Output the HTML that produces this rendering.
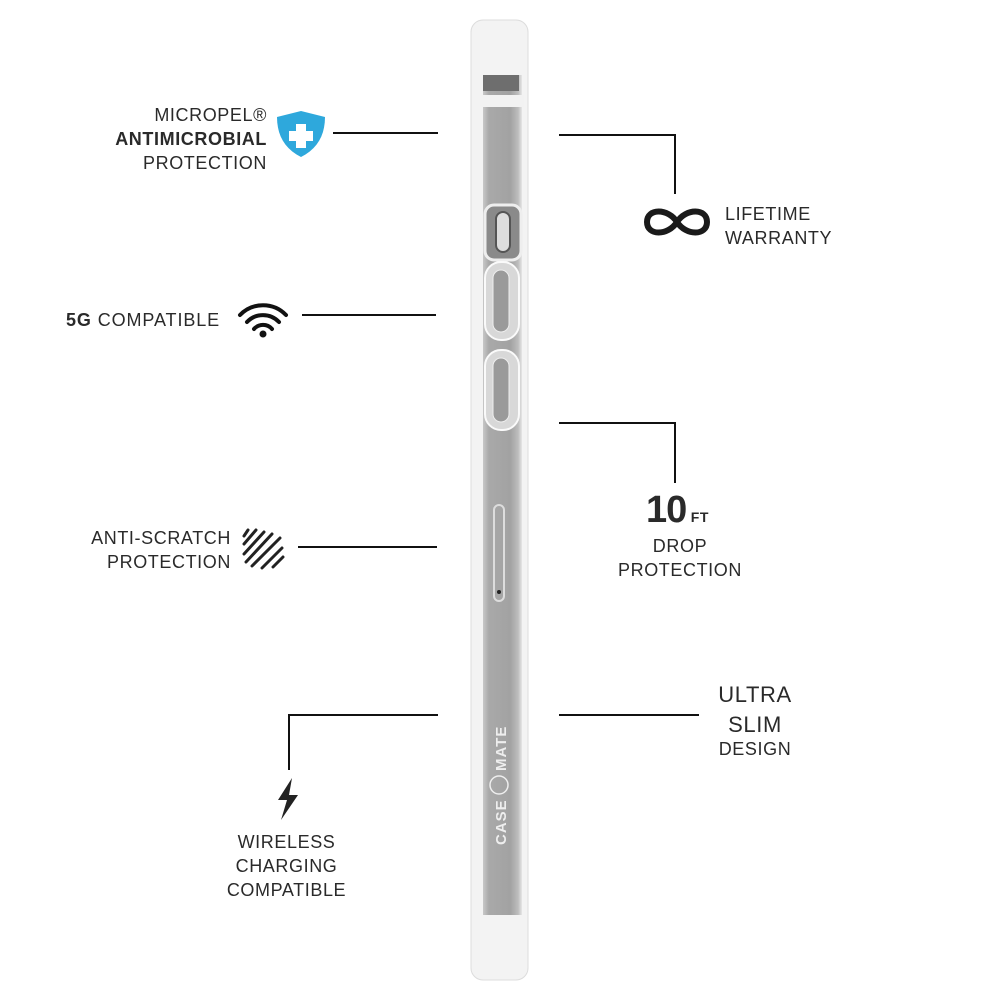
<!DOCTYPE html>
<html><head><style>
body{margin:0;width:1000px;height:1000px;background:#fff;position:relative;overflow:hidden;font-family:"Liberation Sans",sans-serif;color:#2a2a2a}
.t{position:absolute;font-size:18px;line-height:24px;letter-spacing:0.6px}
.l{position:absolute;background:#111}
</style></head><body>
<svg width="1000" height="1000" style="position:absolute;left:0;top:0">
<defs>
<linearGradient id="m" x1="0" x2="1"><stop offset="0" stop-color="#c8c8c8"/><stop offset="0.15" stop-color="#a9a9a9"/><stop offset="0.7" stop-color="#a2a2a2"/><stop offset="0.9" stop-color="#bdbdbd"/><stop offset="1" stop-color="#e6e6e6"/></linearGradient>
</defs>
<rect x="471" y="20" width="57" height="960" rx="12" fill="#f3f3f3" stroke="#dcdcdc"/>
<rect x="483" y="75" width="39" height="840" fill="url(#m)"/>
<rect x="483" y="75" width="36" height="16" fill="#6e6e6e"/>
<rect x="480" y="95" width="44" height="12" fill="#f2f2f2"/>
<rect x="485" y="205" width="36" height="55" rx="9" fill="#8a8a8a" stroke="#eee" stroke-width="3"/>
<rect x="496" y="212" width="14" height="40" rx="7" fill="#ddd" stroke="#555" stroke-width="2"/>
<rect x="485" y="262" width="34" height="78" rx="16" fill="#d8d8d8" stroke="#fafafa" stroke-width="2"/>
<rect x="493" y="270" width="16" height="62" rx="8" fill="#9a9a9a" stroke="#eee"/>
<rect x="485" y="350" width="34" height="80" rx="16" fill="#d8d8d8" stroke="#fafafa" stroke-width="2"/>
<rect x="493" y="358" width="16" height="64" rx="8" fill="#9a9a9a" stroke="#eee"/>
<rect x="494" y="505" width="10" height="96" rx="5" fill="none" stroke="#ddd" stroke-width="2"/>
<circle cx="499" cy="592" r="2" fill="#222"/>
<text x="0" y="0" transform="translate(506,845) rotate(-90)" font-size="15" fill="#eee" font-family="Liberation Sans" font-weight="bold" letter-spacing="1">CASE</text>
<circle cx="499" cy="785" r="9" fill="none" stroke="#eee" stroke-width="1.5"/>
<text x="0" y="0" transform="translate(506,771) rotate(-90)" font-size="15" fill="#eee" font-family="Liberation Sans" font-weight="bold" letter-spacing="1">MATE</text>
<path d="M301 111 L325 117 Q325 145 301 157 Q277 145 277 117 Z" fill="#2ea8dc"/>
<path d="M296 124h10v7h7v10h-7v7h-10v-7h-7v-10h7z" fill="#fff"/>
<path d="M677 222 C668 208 647 208 647 222 C647 236 668 236 677 222 C686 208 707 208 707 222 C707 236 686 236 677 222 Z" fill="none" stroke="#1a1a1a" stroke-width="6"/>
<g fill="none" stroke="#111" stroke-width="4" stroke-linecap="round">
<path d="M240 315 A32 32 0 0 1 286 315"/><path d="M247 322 A22 22 0 0 1 279 322"/><path d="M254 329 A12 12 0 0 1 272 329"/>
</g><circle cx="263" cy="334" r="3.5" fill="#111"/>
<g stroke="#222" stroke-width="3" stroke-linecap="round"><path d="M248 530l-4 6M256 530l-12 14M264 532l-20 22M272 534l-26 28M280 538l-28 28M282 548l-20 20M283 557l-10 10"/></g>
<path d="M292 778 L278 800 L287 800 L281 820 L298 795 L289 795 Z" fill="#222"/>
</svg>
<div class="l" style="left:333px;top:132px;width:105px;height:2px"></div>
<div class="l" style="left:559px;top:134px;width:117px;height:2px"></div>
<div class="l" style="left:674px;top:134px;width:2px;height:60px"></div>
<div class="l" style="left:302px;top:314px;width:134px;height:2px"></div>
<div class="l" style="left:559px;top:422px;width:117px;height:2px"></div>
<div class="l" style="left:674px;top:422px;width:2px;height:61px"></div>
<div class="l" style="left:298px;top:546px;width:139px;height:2px"></div>
<div class="l" style="left:559px;top:714px;width:140px;height:2px"></div>
<div class="l" style="left:288px;top:714px;width:150px;height:2px"></div>
<div class="l" style="left:288px;top:714px;width:2px;height:56px"></div>
<div class="t" style="left:40px;top:103px;width:227px;text-align:right">MICROPEL®<br><b>ANTIMICROBIAL</b><br>PROTECTION</div>
<div class="t" style="left:725px;top:202px">LIFETIME<br>WARRANTY</div>
<div class="t" style="left:66px;top:308px;letter-spacing:0.9px"><b>5G</b> COMPATIBLE</div>
<div class="t" style="left:600px;top:490px;width:155px;text-align:center;line-height:24px"><span style="font-size:38px;font-weight:bold;letter-spacing:-1px;line-height:40px">10</span><b style="font-size:14px"> FT</b></div>
<div class="t" style="left:600px;top:534px;width:160px;text-align:center">DROP<br>PROTECTION</div>
<div class="t" style="left:40px;top:526px;width:191px;text-align:right">ANTI-SCRATCH<br>PROTECTION</div>
<div class="t" style="left:700px;top:680px;width:110px;text-align:center;font-size:22px;line-height:30px">ULTRA<br>SLIM</div>
<div class="t" style="left:700px;top:737px;width:110px;text-align:center">DESIGN</div>
<div class="t" style="left:200px;top:830px;width:173px;text-align:center">WIRELESS<br>CHARGING<br>COMPATIBLE</div>
</body></html>
